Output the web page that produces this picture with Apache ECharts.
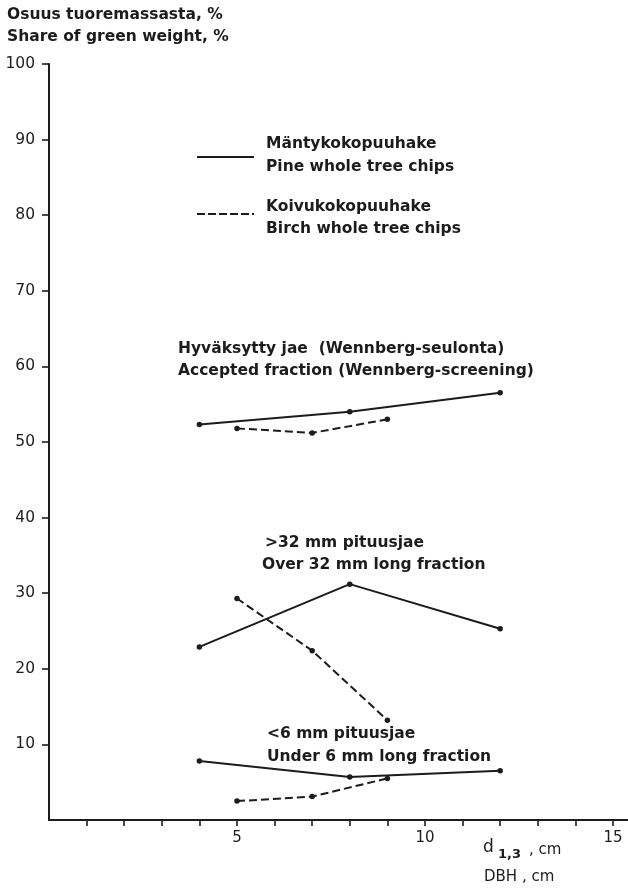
<!DOCTYPE html>
<html><head><meta charset="utf-8">
<script src="https://cdn.jsdelivr.net/npm/echarts@6/dist/echarts.min.js"></script>
<style>html,body{margin:0;padding:0;background:#fff}#c{width:628px;height:890px}</style>
</head><body><div id="c"></div>
<script>
// ---- data ----
const dbhPine = [4, 8, 12];
const dbhBirch = [5, 7, 9];
const pineAccepted = [52.3, 54.0, 56.5];
const birchAccepted = [51.8, 51.2, 53.0];
const pineOver32 = [22.9, 31.2, 25.3];
const birchOver32 = [29.3, 22.4, 13.2];
const pineUnder6 = [7.8, 5.7, 6.5];
const birchUnder6 = [2.5, 3.1, 5.5];
const yTickValues = [10, 20, 30, 40, 50, 60, 70, 80, 90, 100];
const xTickValues = [1, 2, 3, 4, 5, 6, 7, 8, 9, 10, 11, 12, 13, 14, 15];
const xLabelValues = [5, 10, 15];
const titleLines = ['Osuus tuoremassasta, %', 'Share of green weight, %'];
const legendPine = ['Mäntykokopuuhake', 'Pine whole tree chips'];
const legendBirch = ['Koivukokopuuhake', 'Birch whole tree chips'];
const labelAccepted = ['Hyväksytty jae  (Wennberg-seulonta)', 'Accepted fraction (Wennberg-screening)'];
const labelOver32 = ['>32 mm pituusjae', 'Over 32 mm long fraction'];
const labelUnder6 = ['<6 mm pituusjae', 'Under 6 mm long fraction'];
const xNameParts = ['d', '1,3', ', cm'];
const xName2 = 'DBH , cm';

// ---- rendering ----
const INK = '#1c1c1c';
const FONT = 'DejaVu Sans';
const chart = echarts.init(document.getElementById('c'), null, {renderer: 'canvas'});
const pair = (xs, ys) => xs.map((x, i) => [x, ys[i]]);
function lineSeries(xs, ys, dashed) {
  return {
    type: 'line', data: pair(xs, ys), symbol: 'circle', symbolSize: 5.5,
    lineStyle: {color: INK, width: 2, type: dashed ? [8, 4] : 'solid'},
    itemStyle: {color: INK}, silent: true, animation: false
  };
}
function txt(x, y, text, size, weight) {
  return {type: 'text', x: x, y: y, silent: true,
    style: {text: text, fill: INK, font: (weight || 'bold') + ' ' + size + 'px "' + FONT + '"', verticalAlign: 'middle', align: 'left'}};
}
const graphics = [
  txt(7, 15, titleLines[0], 15.5), txt(7, 37, titleLines[1], 15.5),
  {type: 'line', silent: true, shape: {x1: 197, y1: 157, x2: 254, y2: 157}, style: {stroke: INK, lineWidth: 2}},
  {type: 'line', silent: true, shape: {x1: 197, y1: 214, x2: 254, y2: 214}, style: {stroke: INK, lineWidth: 2, lineDash: [8, 3]}},
  txt(266, 144, legendPine[0], 15.5), txt(266, 167, legendPine[1], 15.5),
  txt(266, 207, legendBirch[0], 15.5), txt(266, 229, legendBirch[1], 15.5),
  txt(178, 349, labelAccepted[0], 15.5), txt(178, 371, labelAccepted[1], 15.5),
  txt(265, 543, labelOver32[0], 15.5), txt(262, 565, labelOver32[1], 15.5),
  txt(267, 734, labelUnder6[0], 15.5), txt(267, 757, labelUnder6[1], 15.5),
  txt(483, 848, xNameParts[0], 17, 'normal'),
  txt(498, 855, xNameParts[1], 13, 'bold'),
  txt(529, 850, xNameParts[2], 15, 'normal'),
  txt(484, 877, xName2, 15, 'normal')
];
chart.setOption({
  backgroundColor: '#ffffff',
  animation: false,
  grid: {left: 49, top: 64, right: 0, bottom: 70, containLabel: false},
  xAxis: {
    type: 'value', min: 0, max: 15.4,
    axisLine: {show: true, lineStyle: {color: INK, width: 2}},
    axisTick: {show: true, inside: false, length: 6, customValues: xTickValues, lineStyle: {color: INK, width: 1.6}},
    axisLabel: {show: true, customValues: xLabelValues, margin: 11, color: INK, fontFamily: FONT, fontSize: 15},
    splitLine: {show: false}
  },
  yAxis: {
    type: 'value', min: 0, max: 100, interval: 10,
    axisLine: {show: true, lineStyle: {color: INK, width: 2}},
    axisTick: {show: true, inside: false, length: 7, customValues: yTickValues, lineStyle: {color: INK, width: 1.6}},
    axisLabel: {show: true, customValues: yTickValues, margin: 14, color: INK, fontFamily: FONT, fontSize: 15.5},
    splitLine: {show: false}
  },
  series: [
    lineSeries(dbhPine, pineAccepted, false),
    lineSeries(dbhBirch, birchAccepted, true),
    lineSeries(dbhPine, pineOver32, false),
    lineSeries(dbhBirch, birchOver32, true),
    lineSeries(dbhPine, pineUnder6, false),
    lineSeries(dbhBirch, birchUnder6, true)
  ],
  graphic: graphics
});
</script></body></html>
